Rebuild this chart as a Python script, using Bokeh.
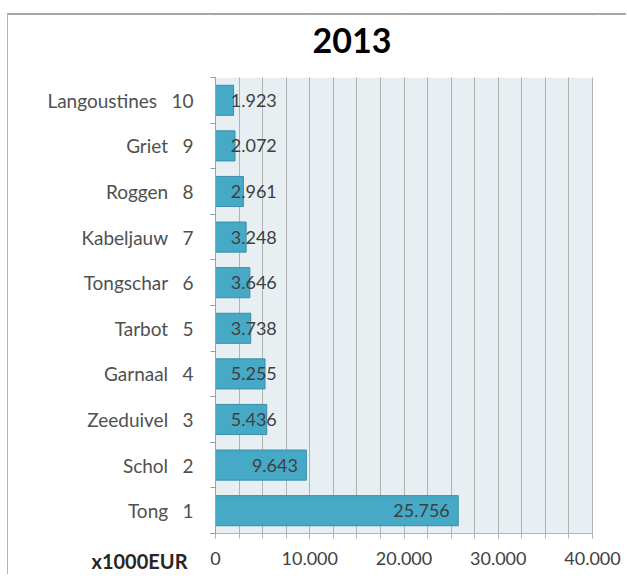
from bokeh.plotting import figure
from bokeh.models import Range1d, FixedTicker, CustomJSTickFormatter, Label, ColumnDataSource
from bokeh.embed import file_html
from bokeh.resources import INLINE
from bokeh.core.properties import value

# ---- data ----
species = ["Tong", "Schol", "Zeeduivel", "Garnaal", "Tarbot", "Tongschar",
           "Kabeljauw", "Roggen", "Griet", "Langoustines"]
ranks = [1, 2, 3, 4, 5, 6, 7, 8, 9, 10]
values = [25756, 9643, 5436, 5255, 3738, 3646, 3248, 2961, 2072, 1923]
value_labels = ["25.756", "9.643", "5.436", "5.255", "3.738", "3.646",
                "3.248", "2.961", "2.072", "1.923"]
x_ticks = [0, 10000, 20000, 30000, 40000]
title_text = "2013"
unit_text = "x1000EUR"

FONT = "Lato"
TXT = "#404040"

# ---- layout geometry (pixels) ----
W, H = 619, 561
X_MIN, X_MAX = 0, 40000
Y_MIN, Y_MAX = 0.5, 10.5
PLOT_W_PX, PLOT_H_PX = 377, 456                  # inner plot area
LEFT_PX, RIGHT_PX, TOP_PX, BOTTOM_PX = 207, 35, 62, 43
x_per_px = (X_MAX - X_MIN) / PLOT_W_PX
y_per_px = (Y_MAX - Y_MIN) / PLOT_H_PX
x_lo = X_MIN - LEFT_PX * x_per_px
x_hi = X_MAX + RIGHT_PX * x_per_px
y_lo = Y_MIN - BOTTOM_PX * y_per_px
y_hi = Y_MAX + TOP_PX * y_per_px

label_x = [max(v - 900, 6500) for v in values]
src = ColumnDataSource(dict(rank=ranks, val=values, lab=value_labels, lx=label_x))

p = figure(width=W, height=H, output_backend="svg", toolbar_location=None,
           x_range=Range1d(x_lo, x_hi), y_range=Range1d(y_lo, y_hi),
           min_border=0)
p.styles = {"margin-left": "7px", "margin-top": "13px",
            "border-top": "2px solid #a8a8a8", "border-left": "1px solid #b4b4b4"}

p.background_fill_color = "white"
p.border_fill_color = "white"
p.outline_line_color = None

# plot area background, and white covers keeping grid lines inside plot area
p.quad(left=X_MIN, right=X_MAX, bottom=Y_MIN, top=Y_MAX, fill_color="#e8eff3",
       line_color=None, level="image")
p.quad(left=[x_lo, x_lo], right=[x_hi, x_hi], bottom=[y_lo, Y_MAX],
       top=[Y_MIN, y_hi], fill_color="white", line_color=None)

p.hbar(y="rank", right="val", left=0, height=0.66, source=src,
       fill_color="#46a9c5", line_color="#3a8fa8", line_width=1)

p.text(x="lx", y="rank", text="lab", source=src, text_align="right",
       text_baseline="middle", text_font=value(FONT), text_font_size="18px",
       text_color=TXT)

# x axis
xa = p.xaxis[0]
xa.fixed_location = Y_MIN
xa.bounds = (X_MIN, X_MAX)
xa.ticker = FixedTicker(ticks=x_ticks, minor_ticks=list(range(X_MIN, X_MAX + 1, 2500)))
xa.formatter = CustomJSTickFormatter(
    code="return tick.toFixed(0).replace(/\\B(?=(\\d{3})+(?!\\d))/g, '.');")
xa.major_label_text_font = FONT
xa.major_label_text_font_size = "18px"
xa.major_label_text_color = TXT
xa.major_label_standoff = 13
xa.axis_line_color = "#b4b4b4"
xa.major_tick_line_color = "#b4b4b4"
xa.minor_tick_line_color = "#b4b4b4"
xa.major_tick_out = 5
xa.major_tick_in = 0
xa.minor_tick_out = 5
xa.minor_tick_in = 0

p.xgrid.grid_line_color = "#b2b2b2"
p.xgrid.minor_grid_line_color = "#b2b2b2"
p.ygrid.grid_line_color = None

# y axis
ya = p.yaxis[0]
ya.fixed_location = X_MIN
ya.bounds = (Y_MIN, Y_MAX)
ya.ticker = FixedTicker(ticks=ranks, minor_ticks=[r - 0.5 for r in ranks] + [ranks[-1] + 0.5])
ya.major_label_overrides = {r: f"{s}\u2002\u00a0{r}" for r, s in zip(ranks, species)}
ya.major_label_text_font = FONT
ya.major_label_text_font_size = "19px"
ya.major_label_text_color = "#505050"
ya.major_tick_line_color = None
ya.major_tick_out = 0
ya.major_tick_in = 0
ya.minor_tick_line_color = "#9a9a9a"
ya.minor_tick_out = 5
ya.minor_tick_in = 0
ya.major_label_standoff = 17
ya.axis_line_color = "#a0a0a0"

# title and unit caption (screen units measured from the frame's lower-left corner)
p.add_layout(Label(x=343.5, y=H - 24.5, x_units="screen", y_units="screen",
                   text=title_text, text_align="center", text_baseline="middle",
                   text_font=FONT, text_font_size="34px", text_font_style="bold",
                   text_color="black"))
p.add_layout(Label(x=179, y=16, x_units="screen", y_units="screen", text=unit_text,
                   text_align="right", text_baseline="middle",
                   text_font=FONT, text_font_size="20px", text_font_style="bold",
                   text_color="#262626"))

open("out.html", "w").write(file_html(p, INLINE))
